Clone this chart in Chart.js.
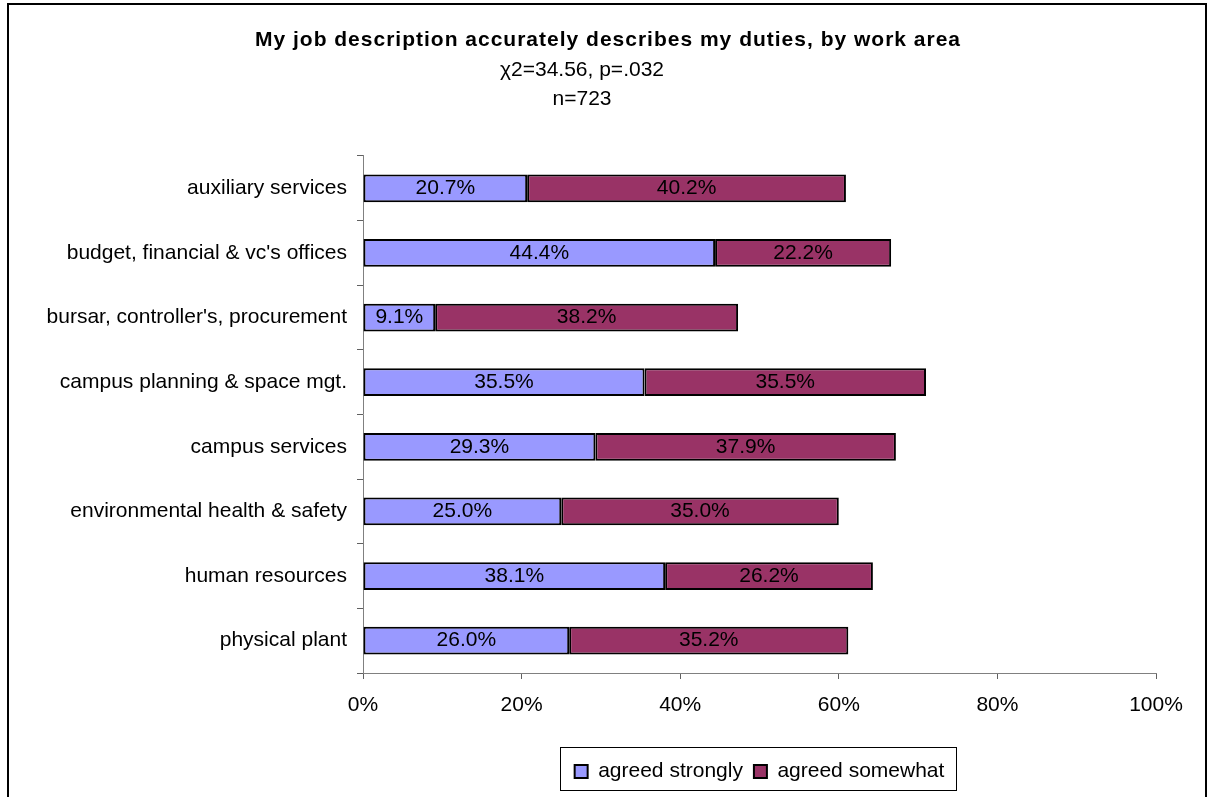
<!DOCTYPE html>
<html>
<head>
<meta charset="utf-8">
<script src="https://cdn.jsdelivr.net/npm/chart.js@4"></script>
<style>
  body { margin: 0; background: #fff; }
  #wrap { position: absolute; left: 0; top: 0; width: 1209px; height: 797px; }
</style>
</head>
<body>
<div id="wrap"><canvas id="myBarChart"></canvas></div>
<script>
// work areas, top to bottom
var areas = [
    "auxiliary services",
    "budget, financial & vc's offices",
    "bursar, controller's, procurement",
    "campus planning & space mgt.",
    "campus services",
    "environmental health & safety",
    "human resources",
    "physical plant"
];
var agreedStrongly = [20.7, 44.4, 9.1, 35.5, 29.3, 25.0, 38.1, 26.0];
var agreedSomewhat = [40.2, 22.2, 38.2, 35.5, 37.9, 35.0, 26.2, 35.2];
var xTicks = [0, 20, 40, 60, 80, 100];

var chartTitle = 'My job description accurately describes my duties, by work area';
var chartSubtitle = ['\u03c72=34.56, p=.032', 'n=723'];

var FONT = "'Liberation Sans', Arial, sans-serif";

// frame round the whole chart, bold title, box round the legend
var framePlugin = {
    id: 'frame',
    beforeDraw: function(chart) {
        var ctx = chart.ctx;
        ctx.save();
        ctx.fillStyle = '#fff';
        ctx.fillRect(0, 0, chart.width, chart.height);
        ctx.strokeStyle = '#000';
        ctx.lineWidth = 2;
        ctx.strokeRect(8, 4, 1198, 820);
        ctx.restore();
    },
    afterDraw: function(chart) {
        var ctx = chart.ctx;
        ctx.save();
        ctx.font = 'bold 21px ' + FONT;
        if ('letterSpacing' in ctx) ctx.letterSpacing = '1px';
        ctx.fillStyle = '#000';
        ctx.textAlign = 'center';
        ctx.textBaseline = 'middle';
        ctx.fillText(chartTitle, 608, 40);
        ctx.restore();

        var boxes = chart.legend.legendHitBoxes;
        if (!boxes || !boxes.length) return;
        var first = boxes[0], last = boxes[boxes.length - 1];
        var left = Math.round(first.left) - 14.5;
        var right = Math.round(last.left + last.width) + 12.5;
        ctx.save();
        ctx.strokeStyle = '#000';
        ctx.lineWidth = 1;
        ctx.strokeRect(left, 747.5, right - left, 43);
        ctx.restore();
    }
};

// percentage labels centred in each segment
var valueLabels = {
    id: 'valueLabels',
    afterDatasetsDraw: function(chart) {
        var ctx = chart.ctx;
        ctx.save();
        ctx.font = '21px ' + FONT;
        ctx.fillStyle = '#000';
        ctx.textAlign = 'center';
        ctx.textBaseline = 'middle';
        chart.data.datasets.forEach(function(ds, i) {
            chart.getDatasetMeta(i).data.forEach(function(bar, j) {
                var p = bar.getProps(['x', 'y', 'base'], true);
                ctx.fillText(ds.data[j].toFixed(1) + '%', (p.x + p.base) / 2, p.y);
            });
        });
        ctx.restore();
    }
};

var ctx = document.getElementById("myBarChart");
var myBarChart = new Chart(ctx, {
    type: 'bar',
    data: {
        labels: areas,
        datasets: [
            {
                label: "agreed strongly",
                data: agreedStrongly,
                backgroundColor: "#9999FF",
                borderColor: "#000",
                borderWidth: 2,
                borderSkipped: false
            },
            {
                label: "agreed somewhat",
                data: agreedSomewhat,
                backgroundColor: "#993366",
                borderColor: "#000",
                borderWidth: 2,
                borderSkipped: false
            }
        ]
    },
    plugins: [framePlugin, valueLabels],
    options: {
        indexAxis: 'y',
        responsive: true,
        maintainAspectRatio: false,
        animation: false,
        layout: { padding: { left: 8, right: 53, top: 0, bottom: 5 } },
        datasets: { bar: { barPercentage: 0.43, categoryPercentage: 1 } },
        scales: {
            x: {
                stacked: true,
                min: 0,
                max: 100,
                afterBuildTicks: function(scale) {
                    scale.ticks = xTicks.map(function(v) { return { value: v }; });
                },
                afterFit: function(scale) { scale.height = 77; },
                grid: { drawOnChartArea: false, tickLength: 6, color: '#606060' },
                border: { color: '#808080', width: 1 },
                ticks: {
                    color: '#000',
                    padding: 14,
                    font: { family: FONT, size: 21 },
                    callback: function(v) { return v + '%'; }
                }
            },
            y: {
                stacked: true,
                afterFit: function(scale) { scale.width = 355; },
                grid: { drawOnChartArea: false, offset: true, tickLength: 6, color: '#606060' },
                border: { color: '#808080', width: 1 },
                ticks: {
                    color: '#000',
                    padding: 10,
                    font: { family: FONT, size: 21 }
                }
            }
        },
        plugins: {
            legend: {
                position: 'bottom',
                fullSize: false,
                labels: {
                    color: '#000',
                    boxWidth: 13,
                    boxHeight: 13,
                    padding: 11,
                    font: { family: FONT, size: 21 }
                }
            },
            title: { display: false },
            subtitle: {
                display: true,
                text: chartSubtitle,
                color: '#000',
                font: { family: FONT, size: 21, lineHeight: 1.38 },
                padding: { top: 55.5, bottom: 42.5 }
            },
            tooltip: { enabled: false }
        }
    }
});
</script>
</body>
</html>
